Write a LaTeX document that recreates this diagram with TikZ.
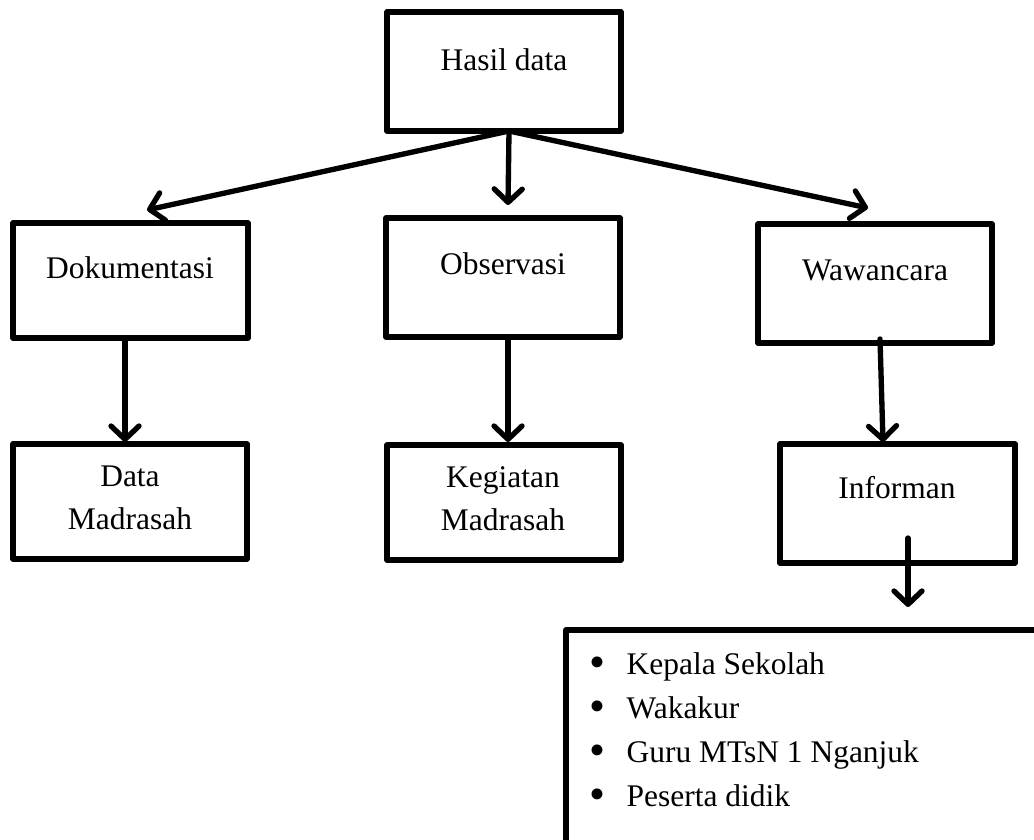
\documentclass[tikz,border=0pt]{standalone}
\usepackage{fontspec}
\setmainfont{Liberation Serif}
\usetikzlibrary{arrows.meta,fit}
\newcommand{\mybul}{\makebox[28pt][l]{\raisebox{-0.07em}{\scalebox{1.45}{\textbullet}}}}
\begin{document}
\begin{tikzpicture}[x=0.75pt,y=-0.75pt,
  box/.style={draw=black,line width=4pt,line join=round,inner sep=0pt,rectangle},
  lbl/.style={inner sep=0pt,align=center,font=\fontsize{23.6}{32.3}\selectfont},
  conn/.style={line width=4pt,line cap=round,-{Straight Barb[length=10pt,width=21pt,line width=4pt,line cap=round,line join=round]}}
]
\useasboundingbox (0,0) rectangle (1034,839);
\clip (0,0) rectangle (1034,839);
% boxes
\node[box,fit={(387,12) (621,131)}] (hasil) {};
\node[box,fit={(13,223) (248,338)}] (dok) {};
\node[box,fit={(386,218) (620,337)}] (obs) {};
\node[box,fit={(758,224) (992,343)}] (waw) {};
\node[box,fit={(13,444) (247,559)}] (data) {};
\node[box,fit={(387,445) (621,560)}] (keg) {};
\node[box,fit={(780,444) (1015,563)}] (inf) {};
\node[box,fit={(566,630) (1060,870)}] (list) {};
% labels
\node[lbl] (thasil) at (504,60) {Hasil data};
\node[lbl] (tdok) at (130,268) {Dokumentasi};
\node[lbl] (tobs) at (503,264) {Observasi};
\node[lbl] (twaw) at (875,270) {Wawancara};
\node[lbl] (tdata) at (130,498) {Data\\Madrasah};
\node[lbl] (tkeg) at (503,499) {Kegiatan\\Madrasah};
\node[lbl] (tinf) at (897,488) {Informan};
\node[lbl,align=left,anchor=west,font=\fontsize{23.6}{33}\selectfont] (tlist) at (589,731)
  {\mybul Kepala Sekolah\\
   \mybul Wakakur\\
   \mybul Guru MTsN 1 Nganjuk\\
   \mybul Peserta didik};
% connectors
\coordinate (o) at (509,131);
\coordinate (dokin) at (147,210);
\coordinate (obsin) at (508,205);
\coordinate (wawin) at (868,208);
\draw[conn] (o) -- (dokin);
\draw[conn] (o) -- (obsin);
\draw[conn] (o) -- (wawin);
\draw[conn] (dok.south -| 125,0) -- (125,442);
\draw[conn] (obs.south -| 508,0) -- (508,442);
\coordinate (wawout) at (880,339);
\coordinate (infin) at (883,442);
\draw[conn] (wawout) -- (infin);
\coordinate (infout) at (908,538);
\coordinate (listin) at (908,607);
\draw[conn] (infout) -- (listin);
\end{tikzpicture}
\end{document}
